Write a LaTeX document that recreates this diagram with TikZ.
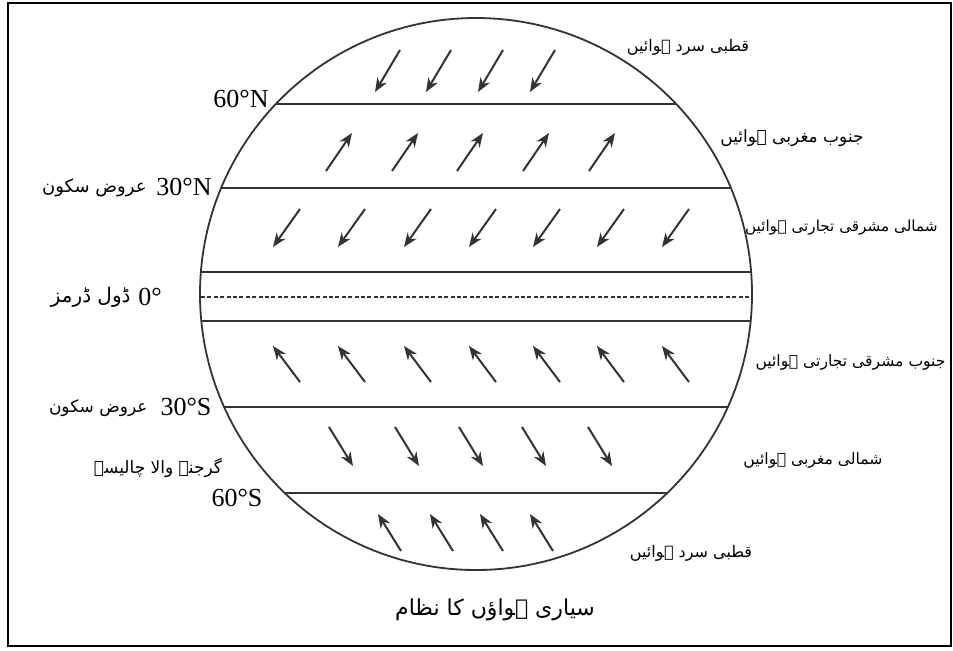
\documentclass[tikz,border=0pt]{standalone}
\usepackage{fontspec}
\setmainfont{Liberation Serif}
\newfontfamily\urdu[Script=Arabic]{DejaVu Sans}
\TeXXeTstate=1
\usetikzlibrary{arrows.meta}

\begin{document}
\begin{tikzpicture}[x=0.5pt, y=-0.5pt,
    every node/.style={font=\fontsize{13}{15}\selectfont, inner sep=0pt},
    ur/.style={font=\urdu\fontsize{#1}{#1}\selectfont}, ur/.default=8.5,
    lat/.style={line width=0.9pt, black!80},
    wind/.style={line width=1pt, black!80, -{Stealth[length=7pt, width=5.5pt]}}]
    \useasboundingbox (0,0) rectangle (953,650);
    \draw[line width=1.3pt] (8,3) rectangle (951,646);
    % globe and latitude bands
    \draw[lat] (476,294) circle [radius=138pt];
    \foreach \yy in {104,188,272,321,407,493} {
        \pgfmathsetmacro\dx{276*sqrt(1-((\yy-294)/276)^2)}
        \draw[lat] ({476-\dx},\yy) -- ({476+\dx},\yy);
    }
    \draw[lat, line width=0.8pt, dash pattern=on 2pt off 1.2pt] (201,297) -- (751,297);
    % winds
    \foreach \x in {375,426,478,530} \draw[wind] ({\x+25},50) -- (\x,92);
    \foreach \x in {326,392,457,523,589} \draw[wind] (\x,171) -- ({\x+26},133);
    \foreach \x in {273,338,404,469,533,597,662} \draw[wind] ({\x+27},209) -- (\x,247);
    \foreach \x in {273,338,404,469,533,597,662} \draw[wind] ({\x+27},382) -- (\x,346);
    \foreach \x in {329,395,459,522,588} \draw[wind] (\x,427) -- ({\x+24},466);
    \foreach \x in {378,430,480,530} \draw[wind] ({\x+23},551) -- (\x,514);
    % labels
    \node[ur=8] (polarN) at (688,47) {\beginR قطبی سرد ہوائیں\endR};
    \node[ur] (swWind) at (792,138) {\beginR جنوب مغربی ہوائیں\endR};
    \node[ur=7.6, anchor=east] (neTrade) at (938,228) {\beginR شمالی مشرقی تجارتی ہوائیں\endR};
    \node[ur=7.8, anchor=east] (seTrade) at (946,362) {\beginR جنوب مشرقی تجارتی ہوائیں\endR};
    \node[ur=7.8] (nwWind) at (813,460) {\beginR شمالی مغربی ہوائیں\endR};
    \node[ur=8] (polarS) at (691,553) {\beginR قطبی سرد ہوائیں\endR};
    \node[ur=11] (title) at (495,610) {\beginR سیاری ہواؤں کا نظام\endR};
    \node (latN60) at (241,99) {60°N};
    \node (latN30) at (184,187) {30°N};
    \node[ur=9, anchor=east] (calmN) at (147,188) {\beginR عروض سکون\endR};
    \node (lat0) at (150,297) {0°};
    \node[ur=10, anchor=east] (doldrums) at (131,297) {\beginR ڈول ڈرمز\endR};
    \node (latS30) at (186,407) {30°S};
    \node[ur=8.5, anchor=east] (calmS) at (148,408) {\beginR عروض سکون\endR};
    \node[ur] (roaring) at (158,468) {\beginR گرجنے والا چالیسہ\endR};
    \node (latS60) at (237,498) {60°S};
\end{tikzpicture}
\end{document}
